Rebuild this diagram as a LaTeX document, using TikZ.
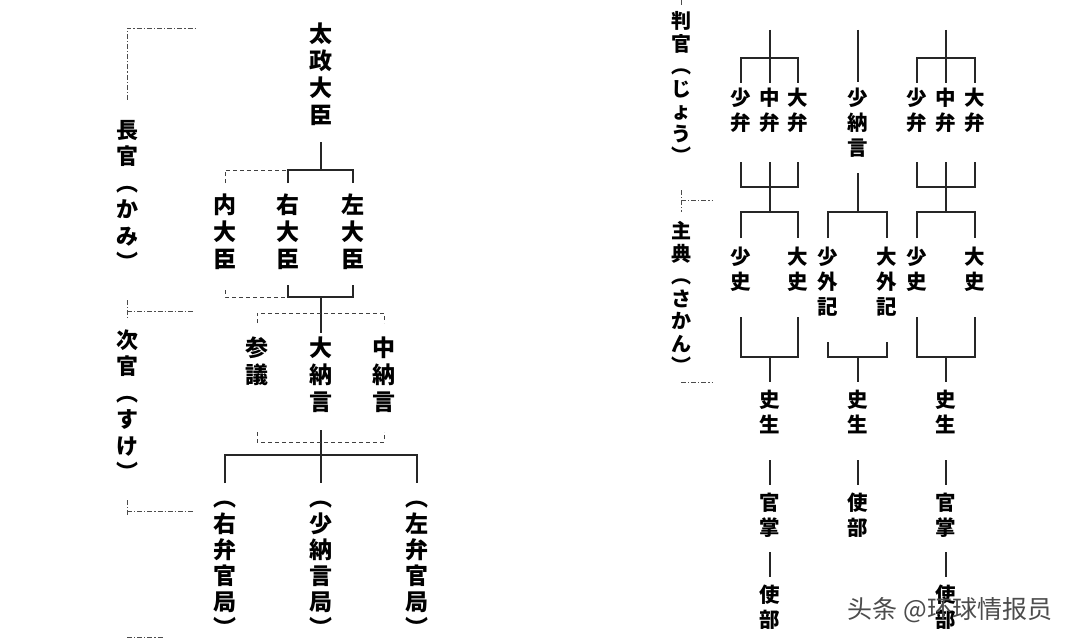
\documentclass[tikz,border=0pt]{standalone}
\usepackage{fontspec}
\newfontfamily\jpfont{Noto Sans CJK JP}
\newfontfamily\scfont{Noto Sans CJK SC}
\usetikzlibrary{positioning}

\begin{document}
\begin{tikzpicture}[x=1pt, y=-1pt,
    tree/.style={draw=black!85, line width=1.1pt},
    dashlink/.style={draw=black!75, line width=0.9pt, dash pattern=on 4pt off 3pt},
    leader/.style={draw=black!70, line width=0.9pt, dash pattern=on 5pt off 2pt on 1.2pt off 2pt},
    rank/.style={font=\jpfont\bfseries\fontsize{22}{26.5}\selectfont, align=center, inner sep=0pt},
    rankr/.style={font=\jpfont\bfseries\fontsize{20}{22.5}\selectfont, align=center, inner sep=0pt},
    post/.style={font=\jpfont\bfseries\fontsize{23}{27}\selectfont, align=center, inner sep=0pt},
    sub/.style={font=\jpfont\bfseries\fontsize{20.5}{25}\selectfont, align=center, inner sep=0pt},
  ]
    \useasboundingbox[fill=white] (0,0) rectangle (1080,642);

    % rank labels
    \node[rank] (kami) at (127,195.5) {長\\官\\︵\\か\\み\\︶};
    \node[rank] (suke) at (127,405) {次\\官\\︵\\す\\け\\︶};
    \node[rankr] (jou) at (681,87.5) {判\\官\\︵\\じ\\ょ\\う\\︶};
    \node[rankr] (sakan) at (681,297.5) {主\\典\\︵\\さ\\か\\ん\\︶};

    % left tree: posts
    \node[post] (dajo) at (321,74) {太\\政\\大\\臣};
    \node[post] (naidai) at (225,232) {内\\大\\臣};
    \node[post] (udai) at (288,232) {右\\大\\臣};
    \node[post] (sadai) at (353,232) {左\\大\\臣};
    \node[post] (sangi) at (257,361) {参\\議};
    \node[post] (dainagon) at (321,375) {大\\納\\言};
    \node[post] (chunagon) at (384,375) {中\\納\\言};
    \node[post, font=\jpfont\bfseries\fontsize{23}{26}\selectfont] (ubenkan) at (225,569) {︵\\右\\弁\\官\\局\\︶};
    \node[post, font=\jpfont\bfseries\fontsize{23}{26}\selectfont] (shonagonkyoku) at (321,569) {︵\\少\\納\\言\\局\\︶};
    \node[post, font=\jpfont\bfseries\fontsize{23}{26}\selectfont] (sabenkan) at (417,569) {︵\\左\\弁\\官\\局\\︶};

    % left tree: lines
    \draw[tree] (dajo |- 0,142) -- (dajo |- 0,170);
    \draw[tree] (udai |- 0,183) -- (udai |- 0,170) -- (sadai |- 0,170) -- (sadai |- 0,183);
    \draw[dashlink] (naidai |- 0,183) -- (naidai |- 0,170) -- (udai |- 0,170);
    \draw[tree] (udai |- 0,285) -- (udai |- 0,297) -- (sadai |- 0,297) -- (sadai |- 0,285);
    \draw[dashlink] (naidai |- 0,290) -- (naidai |- 0,297) -- (udai |- 0,297);
    \draw[tree] (dainagon |- 0,297) -- (dainagon |- 0,333);
    \draw[dashlink] (sangi |- 0,323) -- (sangi |- 0,313) -- (chunagon |- 0,313) -- (chunagon |- 0,323);
    \draw[tree] (dainagon |- 0,430) -- (dainagon |- 0,483);
    \draw[dashlink] (sangi |- 0,432) -- (sangi |- 0,442) -- (chunagon |- 0,442) -- (chunagon |- 0,432);
    \draw[tree] (ubenkan |- 0,483) -- (ubenkan |- 0,455) -- (sabenkan |- 0,455) -- (sabenkan |- 0,483);

    % rank leaders
    \draw[leader] (kami |- 0,100) -- (kami |- 0,28) -- (195,28);
    \draw[leader] (suke |- 0,300) -- (suke |- 0,320);
    \draw[leader] (suke |- 0,311) -- (195,311);
    \draw[leader] (suke |- 0,500) -- (suke |- 0,515);
    \draw[leader] (suke |- 0,511) -- (193,511);
    \draw[leader] (suke |- 0,637) -- (163,637);
    \draw[leader] (jou |- 0,0) -- (jou |- 0,6);
    \draw[leader] (sakan |- 0,190) -- (sakan |- 0,212);
    \draw[leader] (sakan |- 0,200) -- (712,200);
    \draw[leader] (sakan |- 0,382) -- (712,382);

    % right tree, group 1
    \node[sub] (shoben1) at (741,110.5) {少\\弁};
    \node[sub] (chuben1) at (770,110.5) {中\\弁};
    \node[sub] (daiben1) at (798,110.5) {大\\弁};
    \node[sub] (shoshi1) at (741,269.5) {少\\史};
    \node[sub] (daishi1) at (798,269.5) {大\\史};
    \node[sub] (shisho1) at (770,411.5) {史\\生};
    \node[sub] (kanjo1) at (770,515) {官\\掌};
    \node[sub] (tsukai1) at (770,607.5) {使\\部};
    \draw[tree] (chuben1 |- 0,30) -- (chuben1 |- 0,83);
    \draw[tree] (shoben1 |- 0,83) -- (shoben1 |- 0,58) -- (daiben1 |- 0,58) -- (daiben1 |- 0,83);
    \draw[tree] (shoben1 |- 0,162) -- (shoben1 |- 0,187) -- (daiben1 |- 0,187) -- (daiben1 |- 0,162);
    \draw[tree] (chuben1 |- 0,162) -- (chuben1 |- 0,212);
    \draw[tree] (shoshi1 |- 0,238) -- (shoshi1 |- 0,212) -- (daishi1 |- 0,212) -- (daishi1 |- 0,238);
    \draw[tree] (shoshi1 |- 0,317) -- (shoshi1 |- 0,357) -- (daishi1 |- 0,357) -- (daishi1 |- 0,317);
    \draw[tree] (shisho1 |- 0,357) -- (shisho1 |- 0,382);
    \draw[tree] (shisho1 |- 0,460) -- (shisho1 |- 0,485);
    \draw[tree] (kanjo1 |- 0,552) -- (kanjo1 |- 0,577);

    % right tree, group 2
    \node[sub] (shonagon) at (858,123) {少\\納\\言};
    \node[sub] (shogeki) at (828,282) {少\\外\\記};
    \node[sub] (daigeki) at (887,282) {大\\外\\記};
    \node[sub] (shisho2) at (858,411.5) {史\\生};
    \node[sub] (tsukai2) at (858,515) {使\\部};
    \draw[tree] (shonagon |- 0,30) -- (shonagon |- 0,82);
    \draw[tree] (shonagon |- 0,173) -- (shonagon |- 0,212);
    \draw[tree] (shogeki |- 0,238) -- (shogeki |- 0,212) -- (daigeki |- 0,212) -- (daigeki |- 0,238);
    \draw[tree] (shogeki |- 0,342) -- (shogeki |- 0,357) -- (daigeki |- 0,357) -- (daigeki |- 0,342);
    \draw[tree] (shisho2 |- 0,357) -- (shisho2 |- 0,382);
    \draw[tree] (shisho2 |- 0,460) -- (shisho2 |- 0,485);

    % right tree, group 3
    \node[sub] (shoben3) at (917,110.5) {少\\弁};
    \node[sub] (chuben3) at (946,110.5) {中\\弁};
    \node[sub] (daiben3) at (975,110.5) {大\\弁};
    \node[sub] (shoshi3) at (917,269.5) {少\\史};
    \node[sub] (daishi3) at (975,269.5) {大\\史};
    \node[sub] (shisho3) at (946,411.5) {史\\生};
    \node[sub] (kanjo3) at (946,515) {官\\掌};
    \node[sub] (tsukai3) at (946,607.5) {使\\部};
    \draw[tree] (chuben3 |- 0,30) -- (chuben3 |- 0,83);
    \draw[tree] (shoben3 |- 0,83) -- (shoben3 |- 0,58) -- (daiben3 |- 0,58) -- (daiben3 |- 0,83);
    \draw[tree] (shoben3 |- 0,162) -- (shoben3 |- 0,187) -- (daiben3 |- 0,187) -- (daiben3 |- 0,162);
    \draw[tree] (chuben3 |- 0,162) -- (chuben3 |- 0,212);
    \draw[tree] (shoshi3 |- 0,238) -- (shoshi3 |- 0,212) -- (daishi3 |- 0,212) -- (daishi3 |- 0,238);
    \draw[tree] (shoshi3 |- 0,317) -- (shoshi3 |- 0,357) -- (daishi3 |- 0,357) -- (daishi3 |- 0,317);
    \draw[tree] (shisho3 |- 0,357) -- (shisho3 |- 0,382);
    \draw[tree] (shisho3 |- 0,460) -- (shisho3 |- 0,485);
    \draw[tree] (kanjo3 |- 0,552) -- (kanjo3 |- 0,577);

    % watermark
    \node[font=\scfont\fontsize{25}{25}\selectfont, text=black!70, inner sep=0pt] (mark) at (950,610) {头条 @环球情报员};
\end{tikzpicture}
\end{document}
